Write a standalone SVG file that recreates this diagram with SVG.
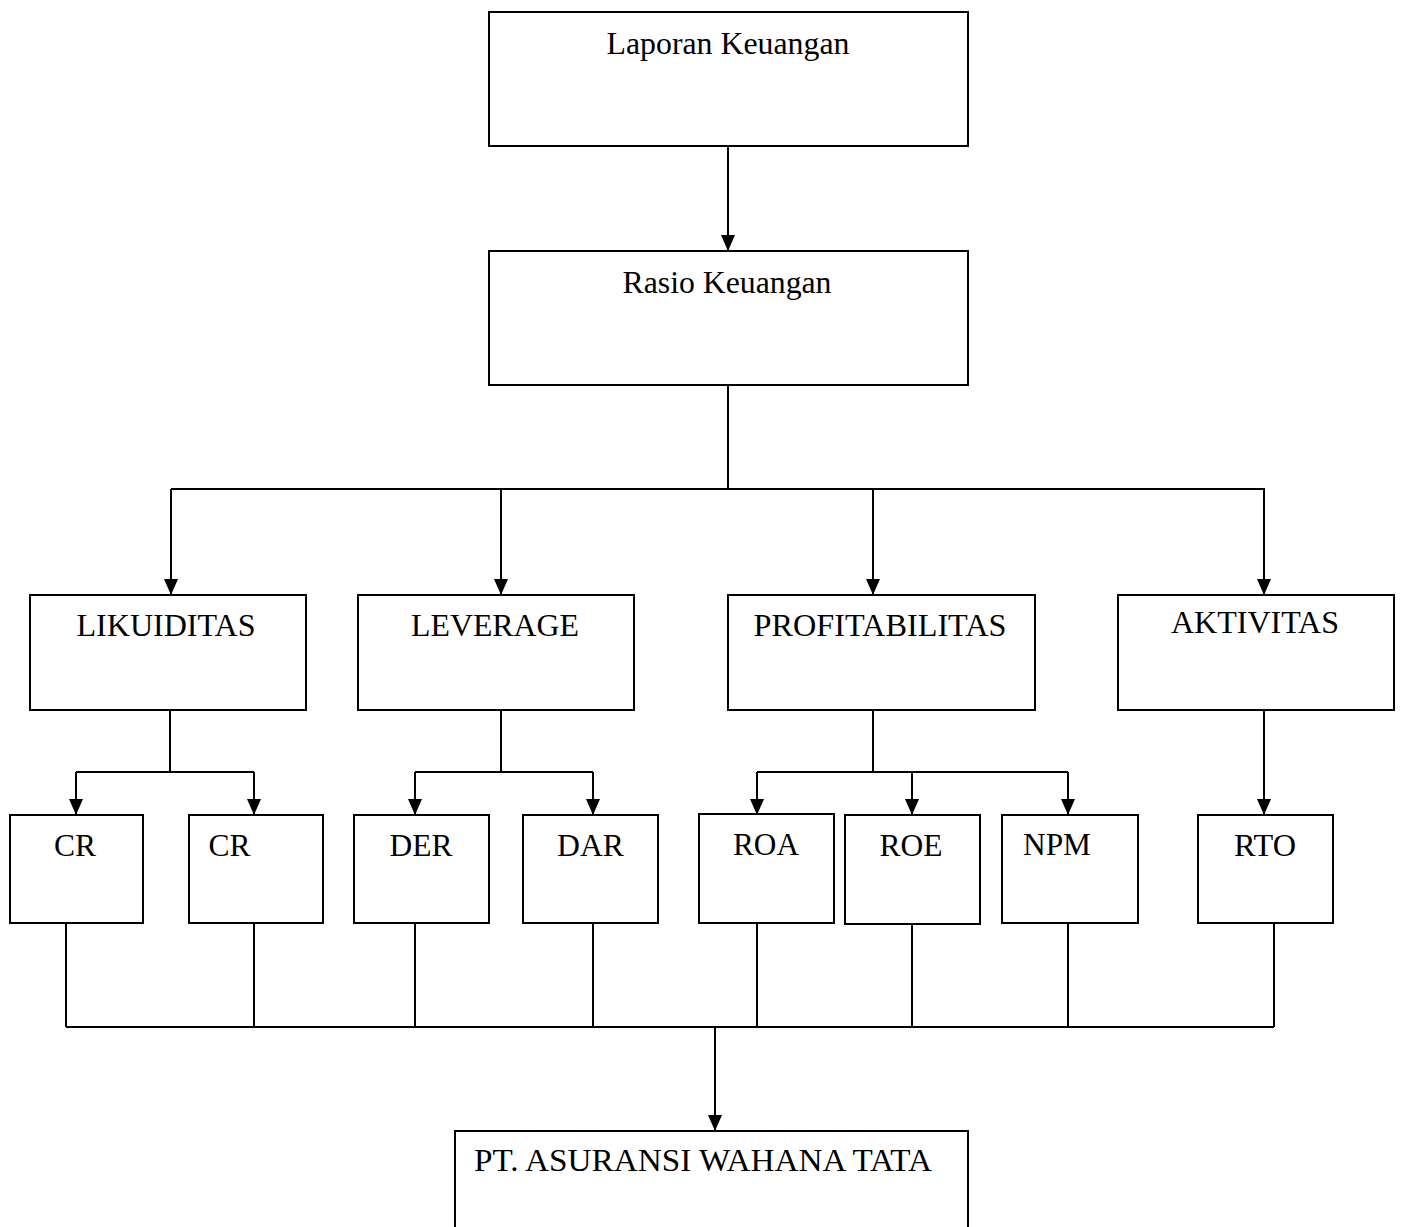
<svg xmlns="http://www.w3.org/2000/svg" width="1402" height="1227" viewBox="0 0 1402 1227">
<style>
.box{fill:#fff;stroke:#000;stroke-width:2}
.t{font-family:"Liberation Serif","Times New Roman",serif;font-size:32.3px;fill:#000;text-anchor:middle}
.c{fill:none;stroke:#000;stroke-width:2}
</style>
<defs>
<marker id="ah" markerUnits="userSpaceOnUse" markerWidth="16" markerHeight="16" refX="16" refY="7" orient="auto" viewBox="0 0 16 14">
<path d="M0,0 L16,7 L0,14 z" fill="#000"/>
</marker>
</defs>
<rect width="1402" height="1227" fill="#fff"/>
<g id="connectors">
<line class="c" x1="728" y1="146" x2="728" y2="251" marker-end="url(#ah)"/>
<polyline class="c" points="728,385 728,489"/>
<line class="c" x1="171" y1="489" x2="1265" y2="489"/>
<line class="c" x1="171" y1="489" x2="171" y2="595" marker-end="url(#ah)"/>
<line class="c" x1="501" y1="489" x2="501" y2="595" marker-end="url(#ah)"/>
<line class="c" x1="873" y1="489" x2="873" y2="595" marker-end="url(#ah)"/>
<line class="c" x1="1264" y1="489" x2="1264" y2="595" marker-end="url(#ah)"/>
<line class="c" x1="170" y1="710" x2="170" y2="772"/>
<line class="c" x1="76" y1="772" x2="254" y2="772"/>
<line class="c" x1="76" y1="772" x2="76" y2="815" marker-end="url(#ah)"/>
<line class="c" x1="254" y1="772" x2="254" y2="815" marker-end="url(#ah)"/>
<line class="c" x1="501" y1="710" x2="501" y2="772"/>
<line class="c" x1="415" y1="772" x2="593" y2="772"/>
<line class="c" x1="415" y1="772" x2="415" y2="815" marker-end="url(#ah)"/>
<line class="c" x1="593" y1="772" x2="593" y2="815" marker-end="url(#ah)"/>
<line class="c" x1="873" y1="710" x2="873" y2="772"/>
<line class="c" x1="757" y1="772" x2="1068" y2="772"/>
<line class="c" x1="757" y1="772" x2="757" y2="815" marker-end="url(#ah)"/>
<line class="c" x1="912" y1="772" x2="912" y2="815" marker-end="url(#ah)"/>
<line class="c" x1="1068" y1="772" x2="1068" y2="815" marker-end="url(#ah)"/>
<line class="c" x1="1264" y1="710" x2="1264" y2="815" marker-end="url(#ah)"/>
<line class="c" x1="66" y1="923" x2="66" y2="1027"/>
<line class="c" x1="254" y1="923" x2="254" y2="1027"/>
<line class="c" x1="415" y1="923" x2="415" y2="1027"/>
<line class="c" x1="593" y1="923" x2="593" y2="1027"/>
<line class="c" x1="757" y1="923" x2="757" y2="1027"/>
<line class="c" x1="912" y1="923" x2="912" y2="1027"/>
<line class="c" x1="1068" y1="923" x2="1068" y2="1027"/>
<line class="c" x1="1274" y1="923" x2="1274" y2="1027"/>
<line class="c" x1="66" y1="1027" x2="1274" y2="1027"/>
<line class="c" x1="715" y1="1027" x2="715" y2="1131" marker-end="url(#ah)"/>
</g>
<g id="laporan"><rect class="box" x="489" y="12" width="479" height="134"/><text class="t" x="728" y="54" textLength="243" lengthAdjust="spacingAndGlyphs">Laporan Keuangan</text></g>
<g id="rasio"><rect class="box" x="489" y="251" width="479" height="134"/><text class="t" x="727" y="293" textLength="209" lengthAdjust="spacingAndGlyphs">Rasio Keuangan</text></g>
<g id="likuiditas"><rect class="box" x="30" y="595" width="276" height="115"/><text class="t" x="166" y="636" textLength="179" lengthAdjust="spacingAndGlyphs">LIKUIDITAS</text></g>
<g id="leverage"><rect class="box" x="358" y="595" width="276" height="115"/><text class="t" x="495" y="636" textLength="168" lengthAdjust="spacingAndGlyphs">LEVERAGE</text></g>
<g id="profitabilitas"><rect class="box" x="728" y="595" width="307" height="115"/><text class="t" x="880" y="636" textLength="253" lengthAdjust="spacingAndGlyphs">PROFITABILITAS</text></g>
<g id="aktivitas"><rect class="box" x="1118" y="595" width="276" height="115"/><text class="t" x="1255" y="633" textLength="168" lengthAdjust="spacingAndGlyphs">AKTIVITAS</text></g>
<g id="cr1"><rect class="box" x="10" y="815" width="133" height="108"/><text class="t" x="75" y="856" textLength="42" lengthAdjust="spacingAndGlyphs">CR</text></g>
<g id="cr2"><rect class="box" x="189" y="815" width="134" height="108"/><text class="t" x="229.5" y="856" textLength="42" lengthAdjust="spacingAndGlyphs">CR</text></g>
<g id="der"><rect class="box" x="354" y="815" width="135" height="108"/><text class="t" x="421" y="856" textLength="63" lengthAdjust="spacingAndGlyphs">DER</text></g>
<g id="dar"><rect class="box" x="523" y="815" width="135" height="108"/><text class="t" x="590.5" y="856" textLength="67" lengthAdjust="spacingAndGlyphs">DAR</text></g>
<g id="roa"><rect class="box" x="699" y="814" width="135" height="109"/><text class="t" x="766" y="855" textLength="66" lengthAdjust="spacingAndGlyphs">ROA</text></g>
<g id="roe"><rect class="box" x="845" y="815" width="135" height="109"/><text class="t" x="911" y="856" textLength="63" lengthAdjust="spacingAndGlyphs">ROE</text></g>
<g id="npm"><rect class="box" x="1002" y="815" width="136" height="108"/><text class="t" x="1057" y="855" textLength="68" lengthAdjust="spacingAndGlyphs">NPM</text></g>
<g id="rto"><rect class="box" x="1198" y="815" width="135" height="108"/><text class="t" x="1265" y="856" textLength="62" lengthAdjust="spacingAndGlyphs">RTO</text></g>
<g id="pt"><rect class="box" x="455" y="1131" width="513" height="120"/><text class="t" x="703" y="1171" textLength="458" lengthAdjust="spacingAndGlyphs">PT. ASURANSI WAHANA TATA</text></g>
</svg>
